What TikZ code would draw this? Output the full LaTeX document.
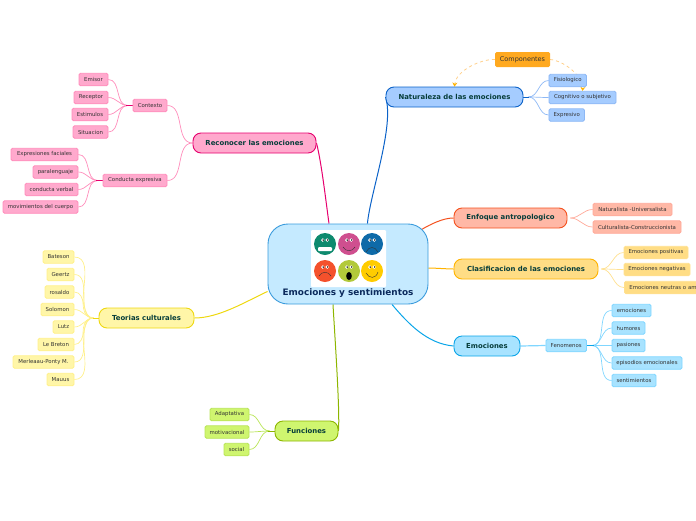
\documentclass[tikz,border=0pt]{standalone}
\usepackage{fontspec}
\setmainfont{DejaVu Sans}
\usetikzlibrary{backgrounds,arrows.meta}
\definecolor{pinkfill}{HTML}{FFA9CD}\definecolor{pinkline}{HTML}{E6006E}\definecolor{pinkleaf}{HTML}{FF8CBB}
\definecolor{bluefill}{HTML}{A5CCFF}\definecolor{blueline}{HTML}{0B62C8}\definecolor{blueleaf}{HTML}{8DB8F5}
\definecolor{redfill}{HTML}{FFB8A6}\definecolor{redline}{HTML}{F4511E}\definecolor{redleaf}{HTML}{FFA999}
\definecolor{goldfill}{HTML}{FFDD85}\definecolor{goldline}{HTML}{FFB300}\definecolor{goldleaf}{HTML}{FFE08F}
\definecolor{skyfill}{HTML}{A8E3FF}\definecolor{skyline}{HTML}{0AA5E8}\definecolor{skyleaf}{HTML}{80D6FF}
\definecolor{yelfill}{HTML}{FFF6A8}\definecolor{yelline}{HTML}{EED810}\definecolor{yelleaf}{HTML}{FFF08A}
\definecolor{grnfill}{HTML}{CFF56F}\definecolor{grnline}{HTML}{8DB600}\definecolor{grnleaf}{HTML}{B8E455}
\definecolor{darktext}{HTML}{063D3A}\definecolor{leaftext}{HTML}{333333}
\definecolor{relcol}{HTML}{FFD08A}\definecolor{compocol}{HTML}{FFA91F}
\definecolor{centfill}{HTML}{C5EAFF}\definecolor{centline}{HTML}{3A9BDC}\definecolor{titletext}{HTML}{0B2A5C}
\tikzset{
  mainnode/.style={draw=#1line,fill=#1fill,line width=0.9pt,rounded corners=8pt,minimum height=20pt,inner sep=0pt,text=darktext,font=\fontsize{6.9}{8}\bfseries},
  leafnode/.style={draw=#1leaf,fill=#1fill,line width=0.8pt,rounded corners=1.5pt,minimum height=12.5pt,inner sep=0pt,text=leaftext,font=\fontsize{5.4}{6}\selectfont},
  mainlink/.style={draw=#1line,line width=1pt},
  leaflink/.style={draw=#1leaf,line width=0.7pt},
  stub/.style={draw=#1line,line width=0.8pt},
  rellink/.style={draw=relcol,line width=0.8pt,dashed,-{Stealth[length=4pt,width=5pt,color=goldline]}},
  mouth/.style={line width=0.4pt,black!80},
}
\begin{document}
\begin{tikzpicture}[x=1pt,y=-1pt]
\useasboundingbox (0,0) rectangle (696,520);
\clip (0,0) rectangle (696,520);
% central topic
\node[draw=centline,fill=centfill,line width=0.9pt,rounded corners=20pt,minimum width=160pt,minimum height=80pt,inner sep=0pt] (central) at (348,264) {};
\node[fill=white,rounded corners=1pt,minimum width=75pt,minimum height=57pt,inner sep=0pt] (faces) at (348.5,258.5) {};
\node[font=\fontsize{8.9}{10}\bfseries,text=titletext] (title) at (348,293) {Emociones y sentimientos};
% faces
\foreach \x/\y/\c in {325/244/0E8A6E,349/244/CF4F8F,372/244/0E6AA8,325/271/F4512C,349/271/B2C93A,372/271/FFCC00} {
  \definecolor{facecol}{HTML}{\c}
  \fill[facecol] (\x,\y) circle (11);
  \fill[white] (\x-2.2,\y-4) circle (1.8) (\x+2.2,\y-4) circle (1.8);
  \fill[black] (\x-1.8,\y-4) circle (0.8) (\x+2.6,\y-4) circle (0.8);
}
\fill[white,rounded corners=1pt] (318,247) rectangle (332,251);
\draw[mouth] (343,247) .. controls (346,252) and (352,252) .. (355,247);
\draw[mouth] (366,252) .. controls (369,246) and (375,246) .. (378,252);
\draw[mouth] (319,276) .. controls (322,271) and (328,271) .. (331,276);
\fill[black] (349,276) ellipse (2.8 and 4);
\draw[mouth] (366,273) .. controls (369,279) and (376,279) .. (378,272);
% main topics
\foreach \nm/\col/\cx/\cy/\w/\txt in {
  natur/blue/454.5/97/137/Naturaleza de las emociones,
  recon/pink/254.5/143/123/Reconocer las emociones,
  enfoq/red/510.5/218/113/Enfoque antropologico,
  clasif/gold/526/269/144/Clasificacion de las emociones,
  emoc/sky/487/346/66/Emociones,
  teor/yel/146.5/318/95/Teorias culturales,
  func/grn/306.5/431/63/Funciones} {
  \node[mainnode=\col,minimum width=\w pt] (\nm) at (\cx,\cy) {\txt};
}
% sub topics
\foreach \nm/\col/\cx/\cy/\w/\txt in {
  fisio/blue/567.7/80.5/37.5/Fisiologico,
  cogn/blue/582.5/97.5/67/Cognitivo o subjetivo,
  expre/blue/566.7/115/35.5/Expresivo,
  contx/pink/150/105.5/34/Contexto,
  condu/pink/135/180.5/64/Conducta expresiva,
  emis/pink/93.5/79.5/29/Emisor,
  recep/pink/91/97.5/34/Receptor,
  estim/pink/90/114.5/36/Estimulos,
  situa/pink/90.5/132/35/Situacion,
  facia/pink/44.5/154.5/67/Expresiones faciales,
  paral/pink/55.5/172/45/paralenguaje,
  verba/pink/51.5/189.5/53/conducta verbal,
  cuerp/pink/40.5/207/75/movimientos del cuerpo,
  natul/red/632.5/209.5/79/Naturalista -Universalista,
  cultu/red/637/227/88/Culturalista-Construccionista,
  posit/gold/656/252.5/64/Emociones positivas,
  negat/gold/657/269.5/66/Emociones negativas,
  fenom/sky/566.2/345.5/40.5/Fenomenos,
  emcn/sky/631.5/310.5/39/emociones,
  humor/sky/628.5/328/33/humores,
  pasio/sky/628.5/345.5/33/pasiones,
  episo/sky/647/363/70/episodios emocionales,
  senti/sky/634/380.5/44/sentimientos,
  bate/yel/58.5/257/31/Bateson,
  geer/yel/60.5/274.5/27/Geertz,
  rosa/yel/59.5/292/29/rosaldo,
  solo/yel/57.5/309.5/33/Solomon,
  lutz/yel/63.5/327/21/Lutz,
  bret/yel/56/344.5/36/Le Breton,
  merl/yel/43.5/362/61/Merleaau-Ponty M.,
  mauu/yel/60.5/379.5/27/Mauus,
  adap/grn/229.5/414.5/39/Adaptativa,
  moti/grn/227/432/44/motivacional,
  soci/grn/236.5/449.5/25/social} {
  \node[leafnode=\col,minimum width=\w pt] (\nm) at (\cx,\cy) {\txt};
}
% runs off the right edge
\node[leafnode=gold,anchor=west,minimum width=90pt,text width=85pt,inner xsep=0pt,align=left] (neutr) at (624,287.5) {\hspace*{2.5pt}Emociones neutras o am};
\node[fill=compocol,rounded corners=1.5pt,minimum width=55pt,minimum height=15pt,inner sep=0pt,text=leaftext,font=\fontsize{6.5}{7}\selectfont] (compo) at (522.5,59.5) {Componentes};
% connectors
\begin{pgfonlayer}{background}
\draw[mainlink=blue] (central.north east) ++(-61,0) coordinate (outn) to[out=85,in=-72,looseness=0.6] (natur.west);
\draw[mainlink=pink] (central.north) ++(-19,0) coordinate (outr) to[out=98,in=-75,looseness=0.6] (recon.east);
\draw[mainlink=red] (central.north east) ++(-7,6) coordinate (oute) to[out=30,in=180,looseness=0.8] (enfoq.west);
\draw[mainlink=gold] (central.east) ++(0,4) coordinate (outc) to[out=0,in=180,looseness=0.6] (clasif.west);
\draw[mainlink=sky] (central.south) ++(44,0) coordinate (outm) to[out=-50,in=175,looseness=0.9] (emoc.west);
\draw[mainlink=yel] (central.south west) ++(0,-13) coordinate (outt) to[out=205,in=0,looseness=0.8] (teor.east);
\draw[mainlink=grn] (central.south) ++(-15,0) coordinate (outf) to[out=-87,in=85,looseness=0.4] (func.east);
\foreach \b in {fisio,cogn,expre} {\draw[leaflink=blue] (natur.east) ++(5,0) to[out=0,in=180] (\b.west);}
\foreach \a/\b in {recon/contx,recon/condu} {\draw[leaflink=pink] (\a.west) to[out=180,in=0] (\b.east);}
\foreach \a/\b in {contx/emis,contx/recep,contx/estim,contx/situa,condu/facia,condu/paral,condu/verba,condu/cuerp} {\draw[leaflink=pink] (\a.west) ++(-5,0) to[out=180,in=0] (\b.east);}
\foreach \b in {natul,cultu} {\draw[leaflink=red] (enfoq.east) ++(3,0) to[out=0,in=180] (\b.west);}
\foreach \b in {posit,negat,neutr} {\draw[leaflink=gold] (clasif.east) ++(3,0) to[out=0,in=180] (\b.west);}
\draw[leaflink=sky,line width=1.2pt] (emoc.east) -- (fenom.west);
\foreach \b in {emcn,humor,pasio,episo,senti} {\draw[leaflink=sky] (fenom.east) ++(5,0) to[out=0,in=180] (\b.west);}
\foreach \b in {bate,geer,rosa,solo,lutz,bret,merl,mauu} {\draw[leaflink=yel] (teor.west) ++(-5,0) to[out=180,in=0] (\b.east);}
\foreach \b in {adap,moti,soci} {\draw[leaflink=grn] (func.west) ++(-5,0) to[out=180,in=0] (\b.east);}
\foreach \a in {contx,condu} {\draw[stub=pink] (\a.west) -- ++(-7,0);}
\draw[stub=sky] (fenom.east) -- ++(7,0);
\draw[stub=blue] (natur.east) -- ++(6,0);
\draw[stub=yel] (teor.west) -- ++(-6,0);
\draw[stub=grn] (func.west) -- ++(-7,0);
\draw[rellink] (compo.west) to[out=178,in=85,looseness=0.8] (natur.north);
\draw[rellink] (compo.east) to[out=-5,in=85,looseness=0.8] (cogn.north);
\end{pgfonlayer}
\end{tikzpicture}
\end{document}
